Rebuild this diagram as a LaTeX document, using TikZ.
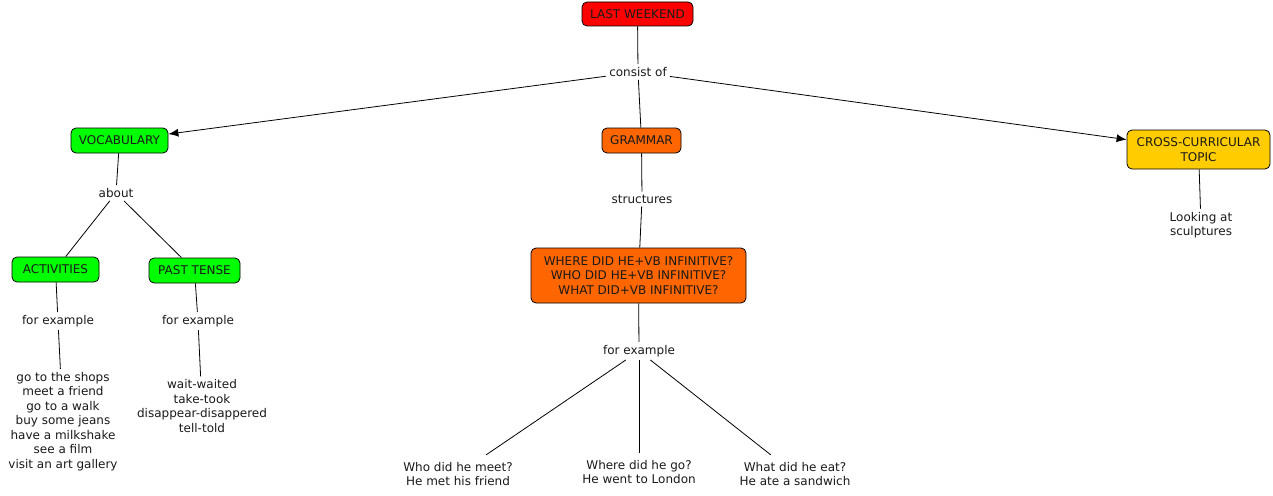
\documentclass[tikz,border=0pt]{standalone}
\usepackage{fontspec}
\setmainfont{DejaVu Sans}
\usetikzlibrary{arrows.meta}
\definecolor{cred}{HTML}{FF0000}
\definecolor{cgreen}{HTML}{00FF00}
\definecolor{corange}{HTML}{FF6600}
\definecolor{cyellow}{HTML}{FFCC00}
\definecolor{ctext}{HTML}{1A1A1A}
\tikzset{
  concept/.style={draw=black, line width=0.8pt, rounded corners=5pt, inner sep=2pt, align=center, text=ctext, font=\fontsize{12}{14.5}\selectfont},
  lbl/.style={inner sep=3pt, align=center, text=ctext, font=\fontsize{12}{14.5}\selectfont},
  link/.style={draw=black, line width=0.8pt},
  arr/.style={link, -{Latex[length=10pt,width=8pt]}}
}
\begin{document}
\begin{tikzpicture}[x=1pt,y=-1pt]
\useasboundingbox (0,0) rectangle (1273,495);
\fill[white] (0,0) rectangle (1273,495);
% concepts
\node[concept, fill=cred, minimum width=111pt, minimum height=24pt] (lw) at (637.5,14) {LAST WEEKEND};
\node[concept, fill=cgreen, minimum width=97pt, minimum height=25pt] (voc) at (119.5,140.5) {VOCABULARY};
\node[concept, fill=corange, minimum width=79pt, minimum height=25pt] (gram) at (641.5,140.5) {GRAMMAR};
\node[concept, fill=cyellow, minimum width=143pt, minimum height=39pt] (cross) at (1198.5,149.5) {CROSS-CURRICULAR\\TOPIC};
\node[concept, fill=cgreen, minimum width=87pt, minimum height=25pt] (act) at (55.5,269.5) {ACTIVITIES};
\node[concept, fill=cgreen, minimum width=91pt, minimum height=25pt] (past) at (194.5,270.5) {PAST TENSE};
\node[concept, fill=corange, minimum width=215pt, minimum height=55pt] (where) at (638.5,275.5) {WHERE DID HE+VB INFINITIVE?\\WHO DID HE+VB INFINITIVE?\\WHAT DID+VB INFINITIVE?};
% labels
\node[lbl] (consist) at (638,72) {consist of};
\node[lbl] (about) at (116,193) {about};
\node[lbl] (fe1) at (58,321) {for example};
\node[lbl] (fe2) at (198,321) {for example};
\node[lbl] (struct) at (642,199) {structures};
\node[lbl] (fe3) at (639,351) {for example};
\node[lbl] (actlist) at (63,421.5) {go to the shops\\meet a friend\\go to a walk\\buy some jeans\\have a milkshake\\see a film\\visit an art gallery};
\node[lbl] (pastlist) at (202,406) {wait-waited\\take-took\\disappear-disappered\\tell-told};
\node[lbl, inner ysep=7pt] (ex1) at (458,474) {Who did he meet?\\He met his friend};
\node[lbl, inner ysep=7pt] (ex2) at (639,472) {Where did he go?\\He went to London};
\node[lbl, inner ysep=7pt] (ex3) at (795,474) {What did he eat?\\He ate a sandwich};
\node[lbl] (look) at (1201,225) {Looking at\\sculptures};
% connectors
\draw[link] (lw) -- (consist);
\draw[arr] (consist) -- (voc);
\draw[link] (consist) -- (gram);
\draw[arr] (consist) -- (cross);
\draw[link] (voc) -- (about);
\draw[link] (about) -- (act);
\draw[link] (about) -- (past);
\draw[link] (act) -- (fe1);
\draw[link] (fe1) -- (actlist);
\draw[link] (past) -- (fe2);
\draw[link] (fe2) -- (pastlist);
\draw[link] (gram) -- (struct);
\draw[link] (struct) -- (where);
\draw[link] (where) -- (fe3);
\draw[link] (fe3) -- (ex1);
\draw[link] (fe3) -- (ex2);
\draw[link] (fe3) -- (ex3);
\draw[link] (cross) -- (look);
\end{tikzpicture}
\end{document}
